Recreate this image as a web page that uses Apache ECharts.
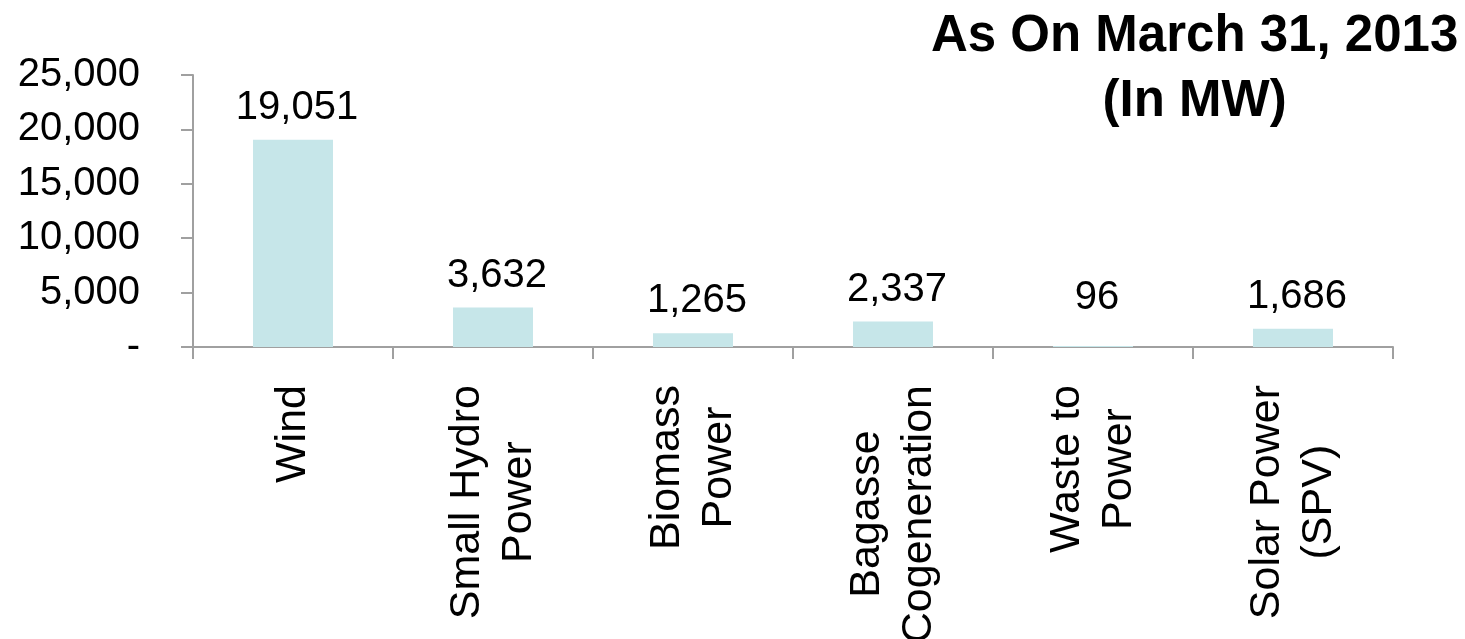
<!DOCTYPE html>
<html>
<head>
<meta charset="utf-8">
<title>Renewable Power Installed Capacity</title>
<script src="https://cdn.jsdelivr.net/npm/echarts@6/dist/echarts.min.js"></script>
<style>
  html, body { margin: 0; padding: 0; background: #ffffff; }
  #chart { width: 1465px; height: 639px; }
</style>
</head>
<body>
<div id="chart"></div>
<script>
// Installed renewable capacity by source (MW)
const categories = [
  'Wind',
  'Small Hydro\nPower',
  'Biomass\nPower',
  'Bagasse\nCogeneration',
  'Waste to\nPower',
  'Solar Power\n(SPV)'
];
const capacityMW = [19051, 3632, 1265, 2337, 96, 1686];
const titleLines = ['As On March 31, 2013', '(In MW)'];
const yTicks = { min: 0, max: 25000, step: 5000 };

const FONT = '"Liberation Sans", Arial, Helvetica, sans-serif';

function fmt(v) {
  return v === 0 ? '-' : v.toLocaleString('en-US');
}

// Wrap each line in a centred rich-text token so multi-line text is centre-aligned
function centredLines(lines, key) {
  return lines.map(function (s) { return '{' + key + '|' + s + '}'; }).join('\n');
}

// Very small bars get their value label lifted a little higher
const barData = capacityMW.map(function (v) {
  return v < 500 ? { value: v, label: { distance: 28 } } : v;
});

const chart = echarts.init(document.getElementById('chart'), null, { renderer: 'canvas' });

chart.setOption({
  backgroundColor: '#ffffff',
  animation: false,
  title: {
    text: centredLines(titleLines, 't'),
    left: 931,
    top: 4,
    padding: 0,
    textStyle: {
      rich: {
        t: {
          fontFamily: FONT,
          fontWeight: 'bold',
          fontSize: 51,
          lineHeight: 65,
          color: '#000000',
          align: 'center'
        }
      }
    }
  },
  grid: {
    left: 193, right: 72, top: 75, bottom: 292,
    containLabel: false,
    outerBoundsMode: 'none'
  },
  xAxis: {
    type: 'category',
    data: categories,
    boundaryGap: true,
    axisLine: { show: true, lineStyle: { color: '#a0a0a0', width: 2 } },
    axisTick: { show: true, alignWithLabel: false, length: 12, lineStyle: { color: '#a0a0a0', width: 2 } },
    axisLabel: {
      interval: 0,
      rotate: 90,
      margin: 38,
      fontFamily: FONT,
      fontSize: 43,
      color: '#000000',
      formatter: function (val) {
        return centredLines(val.split('\n'), 'c');
      },
      rich: {
        c: { fontFamily: FONT, fontSize: 43, lineHeight: 52, color: '#000000', align: 'center' }
      }
    }
  },
  yAxis: {
    type: 'value',
    min: yTicks.min,
    max: yTicks.max,
    interval: yTicks.step,
    splitLine: { show: false },
    axisLine: { show: true, lineStyle: { color: '#a0a0a0', width: 2 } },
    axisTick: { show: true, inside: false, length: 12, lineStyle: { color: '#a0a0a0', width: 2 } },
    axisLabel: {
      margin: 53,
      fontFamily: FONT,
      fontSize: 40,
      color: '#000000',
      formatter: fmt
    }
  },
  series: [{
    type: 'bar',
    data: barData,
    barWidth: 80,
    itemStyle: { color: '#c6e6e9' },
    label: {
      show: true,
      position: 'top',
      distance: 12,
      offset: [4, 0],
      fontFamily: FONT,
      fontSize: 40,
      color: '#000000',
      formatter: function (p) { return fmt(p.value); }
    }
  }]
});
</script>
</body>
</html>
